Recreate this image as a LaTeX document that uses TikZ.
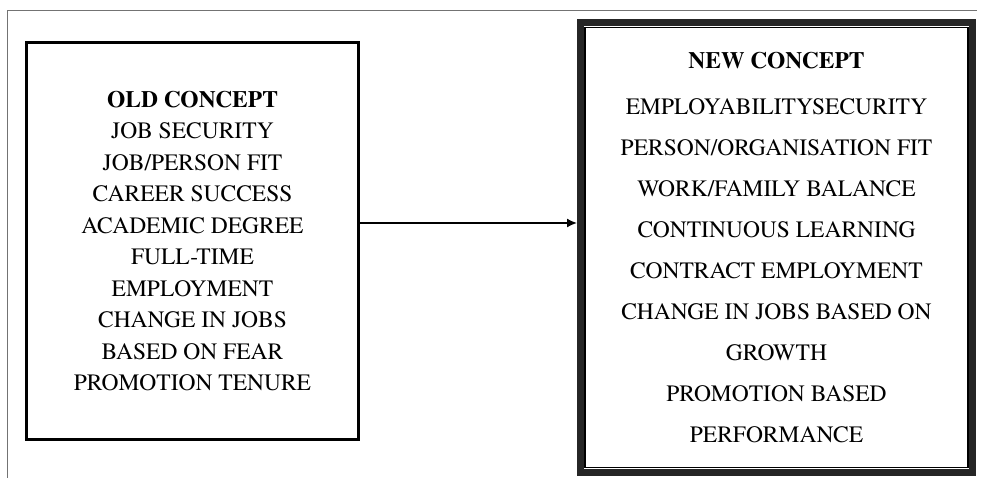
\documentclass[tikz,border=0pt]{standalone}
\usepackage{fontspec}
\setmainfont{texgyretermes}[Extension=.otf, UprightFont=*-regular, BoldFont=*-bold]
\usetikzlibrary{calc,arrows.meta}

\begin{document}
\begin{tikzpicture}[x=1pt, y=-1pt,
		concept/.style={align=center, inner sep=0pt, font=\fontsize{23.5}{31.5}\selectfont},
		newconcept/.style={concept, font=\fontsize{23.5}{41}\selectfont}]
				% Frame, boxes and arrow:
				\useasboundingbox (0,0) rectangle (983,478);
				\coordinate (F1) at (7,478);
				\coordinate (F2) at (7,11);
				\coordinate (F3) at (977,11);
				\draw[black!55, line width=1pt] (F1) -- (F2) -- (F3);
				\node[draw, line width=3pt, minimum width=332pt, minimum height=397pt, concept](old) at (192.5,241){\textbf{OLD CONCEPT}\\JOB SECURITY\\JOB/PERSON FIT\\CAREER SUCCESS\\ACADEMIC DEGREE\\FULL-TIME\\EMPLOYMENT\\CHANGE IN JOBS\\BASED ON FEAR\\PROMOTION TENURE};
				\node[draw=black!85, line width=7pt, minimum width=392pt, minimum height=449pt, newconcept](new) at (776.5,247.5){\textbf{NEW CONCEPT}\\[5pt]EMPLOYABILITYSECURITY\\PERSON/ORGANISATION FIT\\WORK/FAMILY BALANCE\\CONTINUOUS LEARNING\\CONTRACT EMPLOYMENT\\CHANGE IN JOBS BASED ON\\GROWTH\\PROMOTION BASED\\PERFORMANCE};
				\draw[line width=1.5pt] ([shift={(8,8)}]new.north west) rectangle ([shift={(-8,-8)}]new.south east);
				\draw[-{Latex[length=10pt, width=9pt]}, line width=1.6pt] (old.east) ++(0,-18) coordinate (A1) -- (A1 -| new.west);
			\end{tikzpicture}
\end{document}
